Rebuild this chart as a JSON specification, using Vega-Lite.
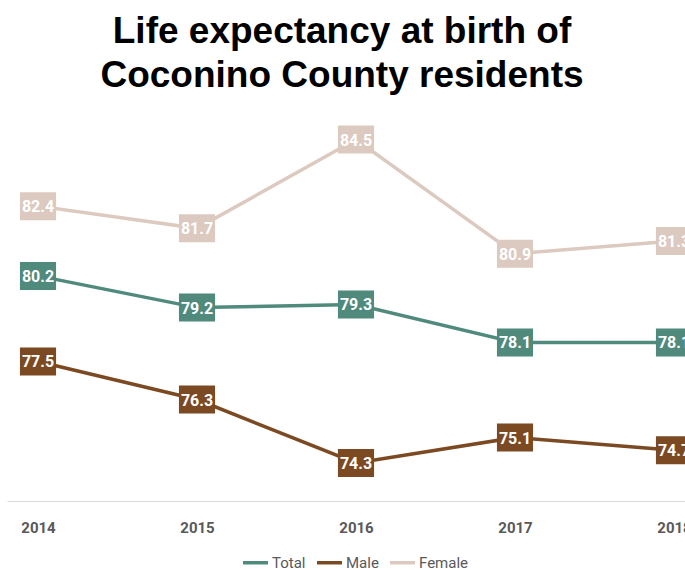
{
  "$schema": "https://vega.github.io/schema/vega-lite/v6.json",
  "autosize": "none",
  "width": 698,
  "height": 409,
  "padding": {"left": 7, "top": 92, "right": 0, "bottom": 69},
  "background": "white",
  "title": {
    "text": ["Life expectancy at birth of", "Coconino County residents"],
    "font": "Liberation Sans",
    "fontSize": 37,
    "fontWeight": "bold",
    "color": "#000000",
    "anchor": "middle",
    "frame": "group",
    "offset": 9,
    "dx": -14,
    "dy": 12,
    "lineHeight": 44
  },
  "data": {
    "values": [
      {"year": "2014", "series": "Total", "value": 80.2},
      {"year": "2015", "series": "Total", "value": 79.2},
      {"year": "2016", "series": "Total", "value": 79.3},
      {"year": "2017", "series": "Total", "value": 78.1},
      {"year": "2018", "series": "Total", "value": 78.1},
      {"year": "2014", "series": "Male", "value": 77.5},
      {"year": "2015", "series": "Male", "value": 76.3},
      {"year": "2016", "series": "Male", "value": 74.3},
      {"year": "2017", "series": "Male", "value": 75.1},
      {"year": "2018", "series": "Male", "value": 74.7},
      {"year": "2014", "series": "Female", "value": 82.4},
      {"year": "2015", "series": "Female", "value": 81.7},
      {"year": "2016", "series": "Female", "value": 84.5},
      {"year": "2017", "series": "Female", "value": 80.9},
      {"year": "2018", "series": "Female", "value": 81.3}
    ]
  },
  "encoding": {
    "x": {
      "field": "year",
      "type": "ordinal",
      "scale": {"type": "point", "padding": 0.195},
      "axis": {
        "title": null,
        "labelAngle": 0,
        "ticks": false,
        "grid": false,
        "domainColor": "#d9d9d9",
        "domainWidth": 1,
        "labelFont": "Roboto",
        "labelFontSize": 15,
        "labelFontWeight": "bold",
        "labelColor": "#595959",
        "labelPadding": 19
      }
    },
    "y": {
      "field": "value",
      "type": "quantitative",
      "scale": {"domain": [73.1, 86], "nice": false, "zero": false},
      "axis": null
    },
    "color": {
      "field": "series",
      "type": "nominal",
      "scale": {
        "domain": ["Total", "Male", "Female"],
        "range": ["#4F8A7D", "#7C4A22", "#DCC9BF"]
      }
    }
  },
  "layer": [
    {
      "mark": {"type": "line", "strokeWidth": 3.5},
      "encoding": {
        "color": {
          "field": "series",
          "type": "nominal",
          "scale": {
            "domain": ["Total", "Male", "Female"],
            "range": ["#4F8A7D", "#7C4A22", "#DCC9BF"]
          },
          "legend": {
            "title": null,
            "orient": "none",
            "direction": "horizontal",
            "legendX": 234,
            "legendY": 456,
            "symbolType": "stroke",
            "symbolSize": 625,
            "symbolStrokeWidth": 3.5,
            "labelFont": "Roboto",
            "labelFontSize": 15,
            "labelColor": "#595959",
            "labelOffset": 2,
            "columnPadding": 4
          }
        }
      }
    },
    {
      "mark": {
        "type": "point",
        "shape": "M-1.29,-1L1.29,-1L1.29,1L-1.29,1Z",
        "size": 784,
        "filled": true,
        "opacity": 1,
        "strokeWidth": 0
      },
      "encoding": {
        "color": {"field": "series", "type": "nominal", "legend": null}
      }
    },
    {
      "mark": {
        "type": "text",
        "color": "white",
        "font": "Roboto",
        "fontSize": 16,
        "fontWeight": "bold",
        "baseline": "middle",
        "align": "center",
        "dy": 1
      },
      "encoding": {
        "text": {"field": "value", "type": "quantitative", "format": ".1f"},
        "color": {"value": "white"}
      }
    }
  ],
  "config": {"view": {"stroke": null}}
}
